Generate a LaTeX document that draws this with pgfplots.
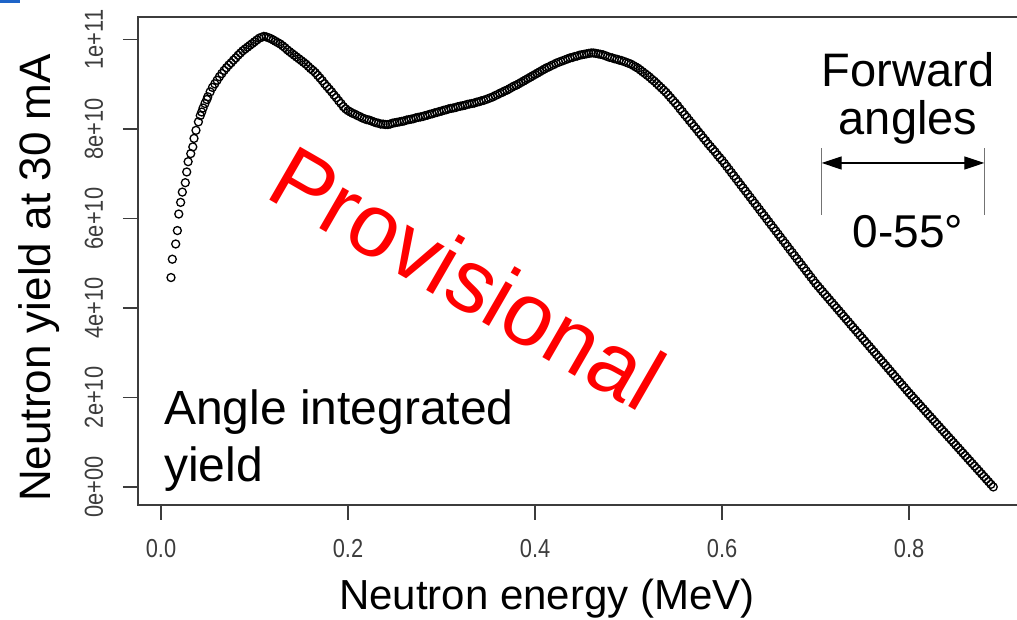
\documentclass[border=0pt]{standalone}
\usepackage{fontspec}
\setmainfont{Liberation Sans}
\newfontfamily\narrow[FakeStretch=0.84]{Liberation Sans}
\usepackage{pgfplots}
\pgfplotsset{compat=1.18}
\usetikzlibrary{arrows.meta}
\definecolor{axgray}{RGB}{60,60,60}
\definecolor{slideblue}{RGB}{30,100,200}

\pgfplotstableread{
x y
0.0107 4.68
0.0121 5.09
0.0157 5.43
0.0175 5.73
0.0190 6.10
0.0210 6.36
0.0228 6.59
0.0260 6.80
0.0275 7.04
0.0290 7.27
0.0318 7.45
0.0340 7.60
0.0353 7.79
0.0374 7.97
0.0400 8.16
0.0420 8.30
0.0435 8.38
0.0450 8.47
0.0470 8.57
0.0490 8.66
0.0500 8.72
0.0525 8.83
0.0550 8.93
0.0575 9.01
0.0600 9.09
0.0625 9.17
0.0650 9.24
0.0675 9.31
0.0700 9.37
0.0725 9.43
0.0750 9.48
0.0775 9.54
0.0800 9.59
0.0825 9.65
0.0850 9.70
0.0875 9.75
0.0900 9.79
0.0925 9.83
0.0950 9.87
0.0975 9.91
0.1000 9.95
0.1025 9.99
0.1050 10.03
0.1075 10.05
0.1100 10.07
0.1125 10.06
0.1150 10.04
0.1175 10.02
0.1200 9.99
0.1225 9.96
0.1250 9.93
0.1275 9.90
0.1300 9.86
0.1325 9.82
0.1350 9.77
0.1375 9.73
0.1400 9.69
0.1425 9.65
0.1450 9.61
0.1475 9.57
0.1500 9.53
0.1525 9.49
0.1550 9.45
0.1575 9.40
0.1600 9.35
0.1625 9.31
0.1650 9.26
0.1675 9.20
0.1700 9.14
0.1725 9.08
0.1750 9.01
0.1775 8.95
0.1800 8.89
0.1825 8.83
0.1850 8.76
0.1875 8.70
0.1900 8.63
0.1925 8.57
0.1950 8.50
0.1975 8.45
0.2000 8.41
0.2025 8.38
0.2050 8.35
0.2075 8.33
0.2100 8.30
0.2125 8.28
0.2150 8.25
0.2175 8.23
0.2200 8.21
0.2225 8.20
0.2250 8.18
0.2275 8.16
0.2300 8.14
0.2325 8.13
0.2350 8.11
0.2375 8.11
0.2400 8.10
0.2425 8.10
0.2450 8.11
0.2475 8.13
0.2500 8.14
0.2525 8.15
0.2550 8.16
0.2575 8.17
0.2600 8.18
0.2625 8.20
0.2650 8.21
0.2675 8.22
0.2700 8.23
0.2725 8.25
0.2750 8.26
0.2775 8.27
0.2800 8.28
0.2825 8.30
0.2850 8.31
0.2875 8.33
0.2900 8.34
0.2925 8.36
0.2950 8.37
0.2975 8.39
0.3000 8.40
0.3025 8.42
0.3050 8.43
0.3075 8.45
0.3100 8.46
0.3125 8.47
0.3150 8.48
0.3175 8.50
0.3200 8.51
0.3225 8.52
0.3250 8.53
0.3275 8.55
0.3300 8.56
0.3325 8.57
0.3350 8.58
0.3375 8.60
0.3400 8.61
0.3425 8.63
0.3450 8.64
0.3475 8.66
0.3500 8.68
0.3525 8.70
0.3550 8.72
0.3575 8.75
0.3600 8.77
0.3625 8.80
0.3650 8.82
0.3675 8.85
0.3700 8.87
0.3725 8.90
0.3750 8.93
0.3775 8.96
0.3800 8.98
0.3825 9.01
0.3850 9.04
0.3875 9.07
0.3900 9.10
0.3925 9.13
0.3950 9.16
0.3975 9.19
0.4000 9.22
0.4025 9.25
0.4050 9.28
0.4075 9.31
0.4100 9.34
0.4125 9.37
0.4150 9.39
0.4175 9.42
0.4200 9.44
0.4225 9.47
0.4250 9.49
0.4275 9.51
0.4300 9.53
0.4325 9.55
0.4350 9.57
0.4375 9.59
0.4400 9.60
0.4425 9.62
0.4450 9.63
0.4475 9.65
0.4500 9.66
0.4525 9.67
0.4550 9.68
0.4575 9.69
0.4600 9.70
0.4625 9.70
0.4650 9.69
0.4675 9.68
0.4700 9.67
0.4725 9.66
0.4750 9.64
0.4775 9.62
0.4800 9.60
0.4825 9.59
0.4850 9.57
0.4875 9.56
0.4900 9.54
0.4925 9.53
0.4950 9.51
0.4975 9.49
0.5000 9.47
0.5025 9.45
0.5050 9.42
0.5075 9.39
0.5100 9.36
0.5125 9.32
0.5150 9.28
0.5175 9.24
0.5200 9.20
0.5225 9.16
0.5250 9.11
0.5275 9.07
0.5300 9.02
0.5325 8.97
0.5350 8.92
0.5375 8.87
0.5400 8.82
0.5425 8.76
0.5450 8.70
0.5475 8.64
0.5500 8.58
0.5525 8.52
0.5550 8.45
0.5575 8.39
0.5600 8.32
0.5625 8.26
0.5650 8.19
0.5675 8.13
0.5700 8.06
0.5725 8.00
0.5750 7.93
0.5775 7.87
0.5800 7.80
0.5825 7.74
0.5850 7.67
0.5875 7.61
0.5900 7.55
0.5925 7.49
0.5950 7.42
0.5975 7.36
0.6000 7.30
0.6025 7.231
0.6050 7.163
0.6075 7.094
0.6100 7.025
0.6125 6.956
0.6150 6.888
0.6175 6.819
0.6200 6.750
0.6225 6.681
0.6250 6.613
0.6275 6.544
0.6300 6.475
0.6325 6.406
0.6350 6.338
0.6375 6.269
0.6400 6.200
0.6425 6.131
0.6450 6.063
0.6475 5.994
0.6500 5.925
0.6525 5.856
0.6550 5.788
0.6575 5.719
0.6600 5.650
0.6625 5.581
0.6650 5.513
0.6675 5.444
0.6700 5.375
0.6725 5.306
0.6750 5.238
0.6775 5.169
0.6800 5.100
0.6825 5.031
0.6850 4.963
0.6875 4.894
0.6900 4.825
0.6925 4.756
0.6950 4.688
0.6975 4.619
0.7000 4.550
0.7025 4.489
0.7050 4.428
0.7075 4.366
0.7100 4.305
0.7125 4.244
0.7150 4.183
0.7175 4.121
0.7200 4.060
0.7225 3.999
0.7250 3.938
0.7275 3.876
0.7300 3.815
0.7325 3.754
0.7350 3.693
0.7375 3.631
0.7400 3.570
0.7425 3.509
0.7450 3.448
0.7475 3.386
0.7500 3.325
0.7525 3.264
0.7550 3.203
0.7575 3.141
0.7600 3.080
0.7625 3.019
0.7650 2.958
0.7675 2.896
0.7700 2.835
0.7725 2.774
0.7750 2.713
0.7775 2.651
0.7800 2.590
0.7825 2.529
0.7850 2.468
0.7875 2.406
0.7900 2.345
0.7925 2.284
0.7950 2.223
0.7975 2.161
0.8000 2.100
0.8025 2.042
0.8050 1.983
0.8075 1.925
0.8100 1.867
0.8125 1.808
0.8150 1.750
0.8175 1.692
0.8200 1.633
0.8225 1.575
0.8250 1.517
0.8275 1.458
0.8300 1.400
0.8325 1.342
0.8350 1.283
0.8375 1.225
0.8400 1.167
0.8425 1.108
0.8450 1.050
0.8475 0.992
0.8500 0.933
0.8525 0.875
0.8550 0.817
0.8575 0.758
0.8600 0.700
0.8625 0.642
0.8650 0.583
0.8675 0.525
0.8700 0.467
0.8725 0.408
0.8750 0.350
0.8775 0.292
0.8800 0.233
0.8825 0.175
0.8850 0.117
0.8875 0.058
0.8900 0.000
}\yielddata

\begin{document}
\begin{tikzpicture}
\useasboundingbox (0,0) rectangle (508.5pt,310pt);
\clip (0,0) rectangle (508.5pt,310pt);
\fill[slideblue] (0,308.6pt) rectangle (10pt,310pt);
\begin{axis}[
  at={(69pt,57.5pt)}, anchor=south west,
  scale only axis, width=444pt, height=244pt,
  xmin=-0.0246, xmax=0.925,
  ymin=-0.404, ymax=10.504,
  axis line style={axgray, line width=0.8pt},
  tick style={axgray, line width=0.8pt},
  tick align=outside, tick pos=left,
  major tick length=7.5pt,
  xtick={0,0.2,0.4,0.6,0.8},
  xticklabels={0.0,0.2,0.4,0.6,0.8},
  ytick={0,2,4,6,8,10},
  yticklabels={0e+00,2e+10,4e+10,6e+10,8e+10,1e+11},
  ticklabel style={font=\narrow\fontsize{13}{15}\selectfont, text=axgray},
  xticklabel style={anchor=base, yshift=-19pt},
  yticklabel style={rotate=90, anchor=base},
  yticklabel shift=10pt,
]
\addplot[only marks, mark=o, mark size=2pt, black,
  mark options={solid, line width=0.65pt}] table {\yielddata};
\end{axis}
% axis titles
\node[anchor=base, font=\fontsize{21}{25}\selectfont] at (273.5pt,5pt) {Neutron energy (MeV)};
\node[anchor=base, rotate=90, font=\fontsize{22}{26}\selectfont] at (25pt,171pt) {Neutron yield at 30 mA};
% annotations
\node[anchor=base, rotate=-30, text=red, font=\fontsize{44.5}{50}\selectfont] at (226pt,157.5pt) {Provisional};
\node[anchor=base west, font=\fontsize{24}{28}\selectfont] at (78.5pt,97.5pt) {Angle integrated};
\node[anchor=base west, font=\fontsize{24}{28}\selectfont] at (78.5pt,69pt) {yield};
\node[anchor=base, font=\fontsize{23.5}{27}\selectfont] at (454pt,266.7pt) {Forward};
\node[anchor=base, font=\fontsize{23.5}{27}\selectfont] at (454pt,242.5pt) {angles};
\node[anchor=base, font=\fontsize{23}{27}\selectfont] at (454pt,186pt) {0-55°};
\draw[black!55, line width=0.65pt] (410.85pt,202.5pt) -- (410.85pt,236pt);
\draw[black!55, line width=0.65pt] (492.15pt,202.5pt) -- (492.15pt,236pt);
\draw[black, line width=0.65pt, {Triangle[length=10pt,width=6.5pt]}-{Triangle[length=10pt,width=6.5pt]}] (410.85pt,228.5pt) -- (492.15pt,228.5pt);
\end{tikzpicture}
\end{document}
